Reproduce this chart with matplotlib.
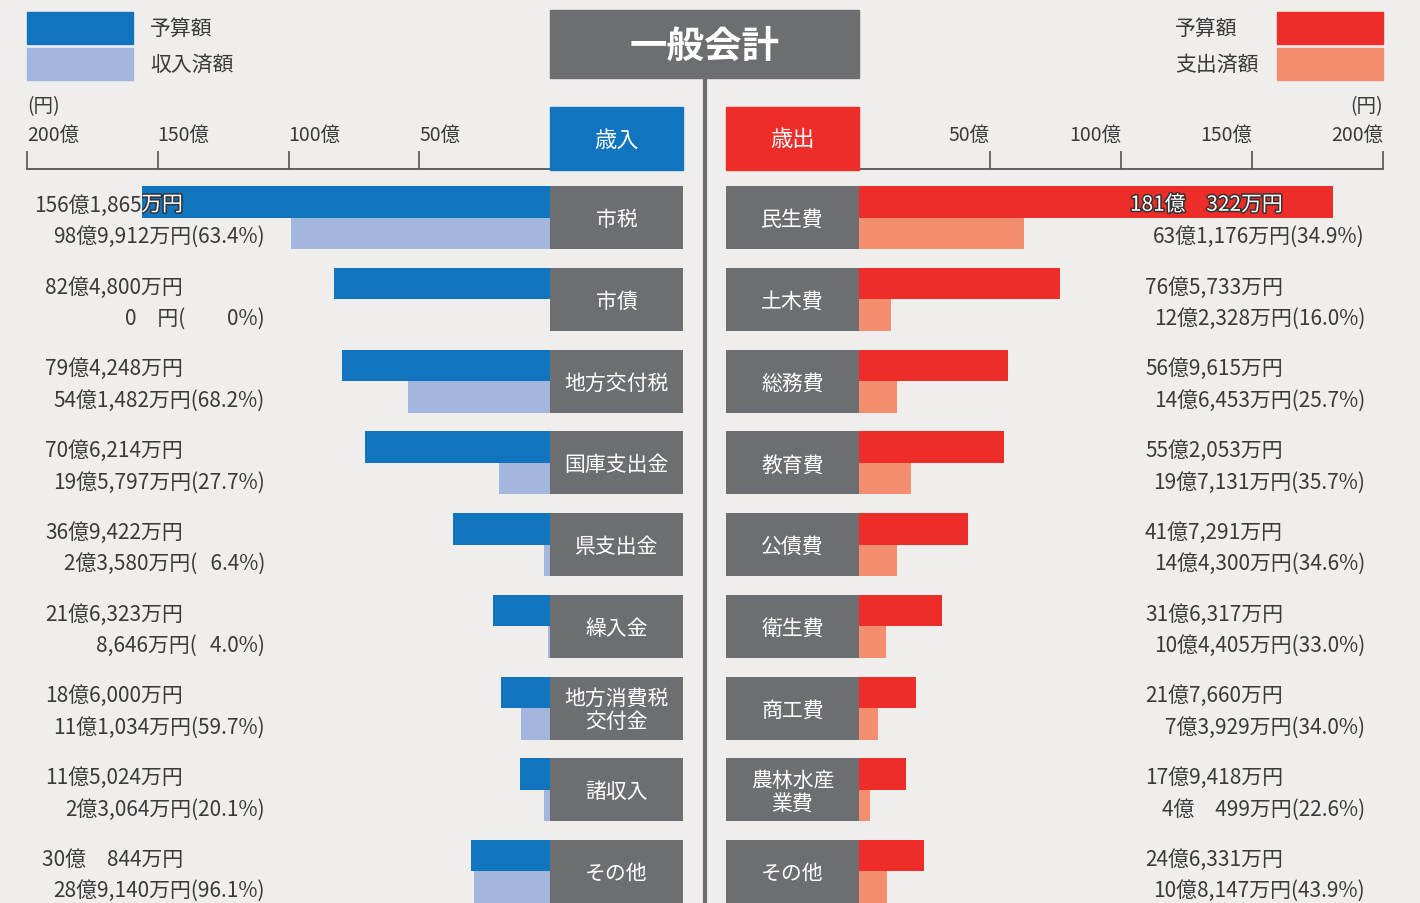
import matplotlib.pyplot as plt
from matplotlib.patches import Rectangle
import matplotlib.patheffects as pe

plt.rcParams['font.family'] = ['Noto Sans CJK JP', 'DejaVu Sans']

# 歳入 (万円)
rev_items = ["市税", "市債", "地方交付税", "国庫支出金", "県支出金",
             "繰入金", "地方消費税\n交付金", "諸収入", "その他"]
rev_budget = [1561865, 824800, 794248, 706214, 369422,
              216323, 186000, 115024, 300844]
rev_actual = [989912, 0, 541482, 195797, 23580,
              8646, 111034, 23064, 289140]

# 歳出 (万円)
exp_items = ["民生費", "土木費", "総務費", "教育費", "公債費",
             "衛生費", "商工費", "農林水産\n業費", "その他"]
exp_budget = [1810322, 765733, 569615, 552053, 417291,
              316317, 217660, 179418, 246331]
exp_actual = [631176, 122328, 146453, 197131, 144300,
              104405, 73929, 40499, 108147]

ticks = [50, 100, 150, 200]

BG = "#efeeec"
GRAY = "#6d6e71"
TXT = "#3a3a3a"
BLUE, LBLUE = "#1174be", "#a3b6de"
RED, SALMON = "#ee2d29", "#f58d6f"

W, H = 1420, 904


def fmt_yen(man):
    """万円の値を「xx億x,xxx万円」の形にする"""
    if man == 0:
        return "0\u3000円"
    oku, rest = divmod(man, 10000)
    if oku == 0:
        return f"{rest:,}万円"
    if rest < 1000:
        return f"{oku}億\u3000{rest}万円"
    return f"{oku}億{rest:,}万円"


def fmt_rate(act, bud):
    if act == 0:
        return "(\u3000\u30000%)"
    p = act / bud * 100
    s = f"{p:.1f}"
    if p < 10:
        s = "\u2007" + s
    return f"({s}%)"


def fbox(x0, y0, x1, y1, color):
    """figure pixel coords box"""
    fig.patches.append(Rectangle((x0 / W, 1 - y1 / H), (x1 - x0) / W,
                                 (y1 - y0) / H, transform=fig.transFigure,
                                 color=color, zorder=1))


def ftext(x, y, s, **kw):
    fig.text(x / W, 1 - y / H, s, **kw)


fig = plt.figure(figsize=(W / 100, H / 100), dpi=100, facecolor=BG)

# row geometry (1 unit = one row pitch)
pitch = 81.75
h = 63 / pitch
y_top = -h / 2 - 17 / pitch
y_bot = 8 + h / 2
dy = 3 / pitch  # small downward nudge for the value labels


def panel(left_px, zero_px, right_px, end_px, items, budget, actual,
          c1, c2, side):
    scale = abs(end_px - zero_px) / 200
    box = 133 / scale
    ax = fig.add_axes([left_px / W, 0, (right_px - left_px) / W,
                       (H - 170) / H])
    if side == "left":
        ax.set_xlim(200, -box)
    else:
        ax.set_xlim(-box, 200)
    ax.set_ylim(y_bot, y_top)
    ax.set_facecolor("none")

    rows = list(range(len(items)))
    b = [v / 10000 for v in budget]
    a = [v / 10000 for v in actual]
    bars = ax.barh([r - h / 4 for r in rows], b, height=h / 2, color=c1)
    ax.barh([r + h / 4 for r in rows], a, height=h / 2, color=c2)
    ax.barh(rows, [-box] * len(rows), height=h, color=GRAY)

    for r, name in enumerate(items):
        ax.text(-box / 2, r + 0.02, name, ha="center", va="center",
                color="white", fontsize=15, linespacing=1.05)

    # value labels
    if side == "left":
        x1 = (zero_px - 183) / scale
        x2 = (zero_px - 265) / scale
    else:
        x1 = (1283 - zero_px) / scale
        x2 = (1365 - zero_px) / scale
    for r in rows:
        s1 = fmt_yen(budget[r])
        ax.text(x1, r - h / 4 + dy, s1, ha="right", va="center", color=TXT,
                fontsize=15)
        # white outlined copy, only visible where it sits on the bar
        t = ax.text(x1, r - h / 4 + dy, s1, ha="right", va="center",
                    color="white", fontsize=15, clip_on=True,
                    path_effects=[pe.withStroke(linewidth=2.2,
                                                foreground="#333333")])
        t.set_clip_path(bars[r])
        s2 = fmt_yen(actual[r]) + fmt_rate(actual[r], budget[r])
        ax.text(x2, r + h / 4 + dy, s2, ha="right", va="center", color=TXT,
                fontsize=15)

    # axis on top
    for sp in ["left", "right", "bottom"]:
        ax.spines[sp].set_visible(False)
    ax.spines["top"].set_bounds(0, 200)
    ax.spines["top"].set_color("#555555")
    ax.spines["top"].set_linewidth(1.3)
    ax.xaxis.tick_top()
    ax.set_xticks(ticks)
    ax.set_xticklabels([f"{t}億" for t in ticks])
    ax.tick_params(axis="x", direction="out", length=13, width=1.2,
                   pad=4, labelsize=14, colors="#555555", labelcolor=TXT)
    for lab in ax.get_xticklabels():
        lab.set_ha("left" if side == "left" else "right")
    ax.set_yticks([])
    return ax


panel(27, 550, 683, 27, rev_items, rev_budget, rev_actual,
      BLUE, LBLUE, "left")
panel(726, 859, 1383, 1383, exp_items, exp_budget, exp_actual,
      RED, SALMON, "right")

# title and headers
fbox(550, 11, 859, 79, GRAY)
ftext(704.5, 46, "一般会計", ha="center", va="center", color="white",
      fontsize=27, fontweight="bold")
fig.add_artist(plt.Line2D([705 / W, 705 / W], [0, 1 - 79 / H],
                          transform=fig.transFigure, color=GRAY, lw=3))
fbox(550, 108, 683, 171, BLUE)
ftext(616.5, 140, "歳入", ha="center", va="center", color="white",
      fontsize=16)
fbox(726, 108, 859, 171, RED)
ftext(792.5, 140, "歳出", ha="center", va="center", color="white",
      fontsize=16)

# legends
fbox(27, 13, 133, 45, BLUE)
fbox(27, 49, 133, 81, LBLUE)
ftext(150, 29, "予算額", ha="left", va="center", color=TXT, fontsize=15)
ftext(150, 65, "収入済額", ha="left", va="center", color=TXT, fontsize=15)
fbox(1277, 13, 1383, 45, RED)
fbox(1277, 49, 1383, 81, SALMON)
ftext(1175, 29, "予算額", ha="left", va="center", color=TXT, fontsize=15)
ftext(1175, 65, "支出済額", ha="left", va="center", color=TXT, fontsize=15)

ftext(27, 107, "(円)", ha="left", va="center", color=TXT, fontsize=14)
ftext(1383, 107, "(円)", ha="right", va="center", color=TXT, fontsize=14)

fig.savefig("out.png", dpi=100, facecolor=BG)
